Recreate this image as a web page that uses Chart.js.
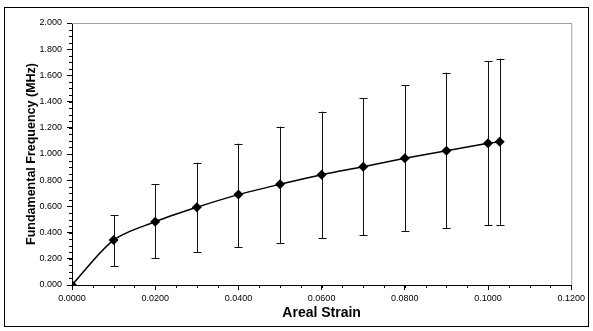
<!doctype html>
<html><head><meta charset="utf-8">
<script src="https://cdn.jsdelivr.net/npm/chart.js@4.4.0/dist/chart.umd.min.js"></script>
<style>
  *{box-sizing:border-box}
  body{margin:0;background:#fff;width:593px;height:331px;overflow:hidden}
  .frame{position:absolute;left:4px;top:7px;width:585px;height:320px;border:1px solid #000}
  canvas{display:block}
</style></head><body>
<div class="frame"><canvas id="c" width="583" height="318"></canvas></div>
<script>
// 면적 변형률 vs 기본 주파수 (오차 막대 포함)
const strain  = [0, 0.01, 0.02, 0.03, 0.04, 0.05, 0.06, 0.07, 0.08, 0.09, 0.1, 0.1028];
const freq    = [0, 0.343, 0.483, 0.593, 0.690, 0.769, 0.842, 0.903, 0.967, 1.025, 1.082, 1.094];
const errHigh = [null, 0.534, 0.769, 0.934, 1.079, 1.209, 1.323, 1.425, 1.524, 1.621, 1.708, 1.728];
const errLow  = [null, 0.145, 0.204, 0.252, 0.288, 0.321, 0.356, 0.379, 0.412, 0.435, 0.456, 0.460];
const xTicks = { min: 0, max: 0.12, step: 0.02, minor: 0.005 };
const yTicks = { min: 0, max: 2.0, step: 0.2, minor: 0.05 };

const FONT = 'Liberation Sans, Arial, sans-serif';

// 오차 막대 + 보조 눈금 + 회색 테두리
const extras = {
  id: 'extras',
  beforeDatasetsDraw(chart) {
    const { ctx, chartArea: a, scales: { x, y } } = chart;
    ctx.save();
    ctx.strokeStyle = '#a0a0a0'; ctx.lineWidth = 1;
    ctx.beginPath();
    ctx.moveTo(a.left, a.top + 0.5); ctx.lineTo(a.right + 0.5, a.top + 0.5); ctx.lineTo(a.right + 0.5, a.bottom);
    ctx.stroke();
    ctx.strokeStyle = '#000';
    ctx.beginPath();
    for (let v = xTicks.min; v <= xTicks.max + 1e-9; v += xTicks.minor) {
      const px = Math.round(x.getPixelForValue(v)) + 0.5;
      ctx.moveTo(px, a.bottom); ctx.lineTo(px, a.bottom + 3);
    }
    for (let v = yTicks.min; v <= yTicks.max + 1e-9; v += yTicks.minor) {
      const py = Math.round(y.getPixelForValue(v)) + 0.5;
      ctx.moveTo(a.left - 3, py); ctx.lineTo(a.left, py);
    }
    ctx.stroke();
    // error bars
    ctx.strokeStyle = '#111';
    ctx.beginPath();
    strain.forEach((s, i) => {
      if (errHigh[i] == null) return;
      const px = Math.round(x.getPixelForValue(s)) + 0.5;
      const hi = y.getPixelForValue(errHigh[i]);
      const lo = y.getPixelForValue(errLow[i]);
      ctx.moveTo(px, hi); ctx.lineTo(px, lo);
      ctx.moveTo(px - 4, Math.round(hi) + 0.5); ctx.lineTo(px + 4, Math.round(hi) + 0.5);
      ctx.moveTo(px - 4, Math.round(lo) + 0.5); ctx.lineTo(px + 4, Math.round(lo) + 0.5);
    });
    ctx.stroke();
    ctx.restore();
  }
};

new Chart(document.getElementById('c'), {
  type: 'scatter',
  data: {
    datasets: [{
      data: strain.map((s, i) => ({ x: s, y: freq[i] })),
      showLine: true,
      borderColor: '#000', borderWidth: 1.5,
      tension: 0.3,
      pointStyle: 'rectRot', pointRadius: 5,
      pointBackgroundColor: '#000', pointBorderColor: '#000', pointBorderWidth: 0,
    }]
  },
  options: {
    responsive: false, animation: false,
    layout: { padding: { top: 15, right: 15, left: 0, bottom: 0 } },
    plugins: { legend: { display: false }, tooltip: { enabled: false } },
    scales: {
      x: {
        type: 'linear', min: xTicks.min, max: xTicks.max,
        afterFit: s => { s.height = 41; },
        border: { color: '#000', width: 1 },
        grid: { drawOnChartArea: false, tickLength: 5, color: '#000' },
        ticks: { stepSize: xTicks.step, color: '#000', padding: 3, font: { family: FONT, size: 9 },
                 callback: v => Number(v).toFixed(4), maxRotation: 0 },
        title: { display: true, text: 'Areal Strain', color: '#000', padding: { top: 7 },
                 font: { family: FONT, size: 14, weight: 'bold' } }
      },
      y: {
        min: yTicks.min, max: yTicks.max,
        afterFit: s => { s.width = 67; },
        border: { color: '#000', width: 1 },
        grid: { drawOnChartArea: false, tickLength: 5, color: '#000' },
        ticks: { stepSize: yTicks.step, color: '#000', padding: 5, font: { family: FONT, size: 9 },
                 callback: v => Number(v).toFixed(3) },
        title: { display: true, text: 'Fundamental Frequency (MHz)', color: '#000', padding: { top: 19, bottom: 0 },
                 font: { family: FONT, size: 12.5, weight: 'bold' } }
      }
    }
  },
  plugins: [extras]
});
</script>
</body></html>
